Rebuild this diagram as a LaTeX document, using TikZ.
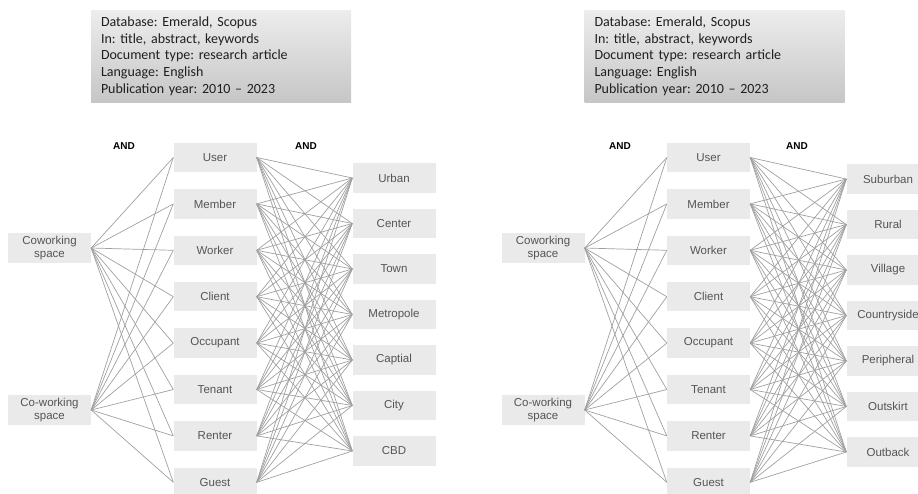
\documentclass[tikz,border=0pt]{standalone}
\usepackage{fontspec}
\setsansfont{Liberation Sans}
\newfontfamily\calibrifont[Ligatures=TeX]{Carlito}
\usetikzlibrary{positioning}
\frenchspacing

\definecolor{termfill}{HTML}{EAEAEA}
\definecolor{termtext}{HTML}{555555}
\definecolor{linkgray}{HTML}{A0A0A0}
\definecolor{boxtop}{HTML}{EDEDED}
\definecolor{boxbottom}{HTML}{C6C6C6}

\tikzset{
  term/.style={fill=termfill, text=termtext, minimum width=83pt, minimum height=29.5pt,
    inner sep=0pt, align=center, font=\sffamily\fontsize{11.5}{13.5}\selectfont},
  link/.style={draw=linkgray, line width=0.7pt},
  andlabel/.style={font=\sffamily\bfseries\fontsize{10}{12}\selectfont},
  infobox/.style={top color=boxtop, bottom color=boxbottom, text width=240pt,
    inner xsep=10pt, inner ysep=0pt, minimum height=92pt, align=left,
    font=\calibrifont\fontsize{14}{16.7}\selectfont, text=black!88}
}

\begin{document}
\begin{tikzpicture}[x=1pt, y=-1pt]
  \useasboundingbox (0,0) rectangle (918,493);

  %% PANEL 1 (URBAN TERMS) %%
  % Search settings
  \node[infobox] (abox) at (221,56) {Database: Emerald, Scopus\\In: title, abstract, keywords\\Document type: research article\\Language: English\\Publication year: 2010 – 2023};

  % Operators
  \node[andlabel] (aand1) at (124,146) {AND};
  \node[andlabel] (aand2) at (306,146) {AND};

  % Term columns
  \node[term] (aL1) at (49.5,248) {Coworking\\space};
  \node[term] (aL2) at (49.5,410) {Co-working\\space};
  \foreach \w [count=\i] in {User,Member,Worker,Client,Occupant,Tenant,Renter,Guest}
    \node[term] (aM\i) at (215,{157.5+46.4*(\i-1)}) {\w};
  \foreach \w [count=\i] in {Urban,Center,Town,Metropole,Captial,City,CBD}
    \node[term] (aR\i) at (394,{178+45.5*(\i-1)}) {\w};

  % Every combination
  \foreach \i in {1,2}
    \foreach \j in {1,...,8}
      \draw[link] (aL\i.east) -- (aM\j.west);
  \foreach \i in {1,...,8}
    \foreach \j in {1,...,7}
      \draw[link] (aM\i.east) -- (aR\j.west);
  %% END PANEL 1 %%

  %% PANEL 2 (NON-URBAN TERMS) %%
  % Search settings
  \node[infobox] (bbox) at (714.5,56) {Database: Emerald, Scopus\\In: title, abstract, keywords\\Document type: research article\\Language: English\\Publication year: 2010 – 2023};

  % Operators
  \node[andlabel] (band1) at (620,146) {AND};
  \node[andlabel] (band2) at (797,146) {AND};

  % Term columns
  \node[term] (bL1) at (543,248) {Coworking\\space};
  \node[term] (bL2) at (543,410) {Co-working\\space};
  \foreach \w [count=\i] in {User,Member,Worker,Client,Occupant,Tenant,Renter,Guest}
    \node[term] (bM\i) at (708.5,{157.5+46.4*(\i-1)}) {\w};
  \foreach \w [count=\i] in {Suburban,Rural,Village,Countryside,Peripheral,Outskirt,Outback}
    \node[term] (bR\i) at (888,{179+45.5*(\i-1)}) {\w};

  % Every combination
  \foreach \i in {1,2}
    \foreach \j in {1,...,8}
      \draw[link] (bL\i.east) -- (bM\j.west);
  \foreach \i in {1,...,8}
    \foreach \j in {1,...,7}
      \draw[link] (bM\i.east) -- (bR\j.west);
  %% END PANEL 2 %%
\end{tikzpicture}
\end{document}
